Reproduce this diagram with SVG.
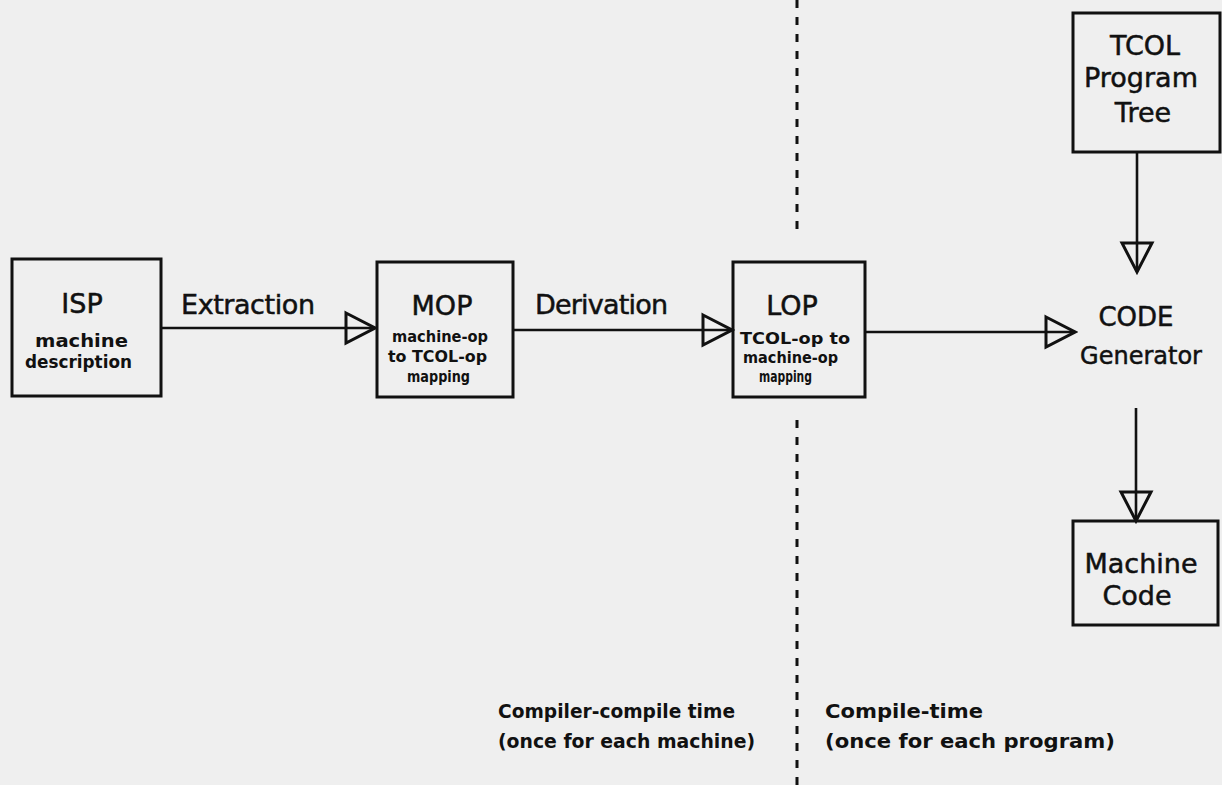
<svg xmlns="http://www.w3.org/2000/svg" width="1222" height="785" viewBox="0 0 1222 785">
<style>
.box{fill:none;stroke:#111;stroke-width:3}
.big{font-family:"DejaVu Sans",sans-serif;font-size:27px;fill:#111;text-anchor:middle;stroke:#111;stroke-width:0.5}
.lbl{font-family:"DejaVu Sans",sans-serif;font-size:27px;fill:#111;stroke:#111;stroke-width:0.5}
.sub{font-family:"DejaVu Sans",sans-serif;font-weight:bold;font-size:16px;fill:#111}
.note{font-family:"DejaVu Sans",sans-serif;font-weight:bold;font-size:20px;fill:#111}
.con{fill:none;stroke:#111;stroke-width:2.6}
.div{fill:none;stroke:#111;stroke-width:3;stroke-dasharray:8 9}
</style>
<defs>
<marker id="tri" viewBox="-3 -19 35 38" markerWidth="35" markerHeight="38" refX="29" refY="0" markerUnits="userSpaceOnUse" orient="auto">
<path d="M0,-15 L29,0 L0,15 Z" fill="none" stroke="#111" stroke-width="3" stroke-linejoin="miter"/>
</marker>
</defs>
<rect width="1222" height="785" fill="#efefef"/>

<g id="divider">
<line class="div" x1="797" y1="0" x2="797" y2="232"/>
<line class="div" x1="797" y1="420" x2="797" y2="785"/>
</g>

<g id="connectors">
<line class="con" x1="161" y1="328" x2="375" y2="328" marker-end="url(#tri)"/>
<line class="con" x1="513" y1="330" x2="732" y2="330" marker-end="url(#tri)"/>
<line class="con" x1="865" y1="332" x2="1075" y2="332" marker-end="url(#tri)"/>
<line class="con" x1="1137" y1="152" x2="1137" y2="272" marker-end="url(#tri)"/>
<line class="con" x1="1136" y1="408" x2="1136" y2="521" marker-end="url(#tri)"/>
<text class="lbl" x="181" y="314" textLength="134">Extraction</text>
<text class="lbl" x="535" y="314" textLength="133">Derivation</text>
</g>

<g id="isp">
<rect class="box" x="12" y="259" width="149" height="137"/>
<text class="big" x="82" y="313">ISP</text>
<text class="sub" x="35" y="347" textLength="93" lengthAdjust="spacingAndGlyphs" style="font-size:18px">machine</text>
<text class="sub" x="25" y="368" textLength="107" lengthAdjust="spacingAndGlyphs" style="font-size:17px">description</text>
</g>

<g id="mop">
<rect class="box" x="377" y="262" width="136" height="135"/>
<text class="big" x="442" y="315">MOP</text>
<text class="sub" x="392" y="342" textLength="96" lengthAdjust="spacingAndGlyphs">machine-op</text>
<text class="sub" x="388" y="362" textLength="99" lengthAdjust="spacingAndGlyphs">to TCOL-op</text>
<text class="sub" x="407" y="382" textLength="63" lengthAdjust="spacingAndGlyphs">mapping</text>
</g>

<g id="lop">
<rect class="box" x="733" y="262" width="132" height="135"/>
<text class="big" x="792" y="315">LOP</text>
<text class="sub" x="740" y="344" textLength="110" lengthAdjust="spacingAndGlyphs">TCOL-op to</text>
<text class="sub" x="743" y="363" textLength="95" lengthAdjust="spacingAndGlyphs">machine-op</text>
<text class="sub" x="759" y="382" textLength="53" lengthAdjust="spacingAndGlyphs">mapping</text>
</g>

<g id="tcol">
<rect class="box" x="1073" y="13" width="147" height="139"/>
<text class="big" x="1145" y="55">TCOL</text>
<text class="big" x="1141" y="87">Program</text>
<text class="big" x="1143" y="122">Tree</text>
</g>

<g id="codegen">
<text class="big" x="1136" y="326" style="font-size:26px">CODE</text>
<text class="big" x="1141" y="364" style="font-size:24px">Generator</text>
</g>

<g id="machinecode">
<rect class="box" x="1073" y="521" width="145" height="104"/>
<text class="big" x="1141" y="573">Machine</text>
<text class="big" x="1137" y="605">Code</text>
</g>

<g id="captions">
<text class="note" x="498" y="718" textLength="237" lengthAdjust="spacingAndGlyphs">Compiler-compile time</text>
<text class="note" x="498" y="748" textLength="257" lengthAdjust="spacingAndGlyphs">(once for each machine)</text>
<text class="note" x="825" y="718" textLength="158" lengthAdjust="spacingAndGlyphs">Compile-time</text>
<text class="note" x="825" y="748" textLength="290" lengthAdjust="spacingAndGlyphs">(once for each program)</text>
</g>
</svg>
